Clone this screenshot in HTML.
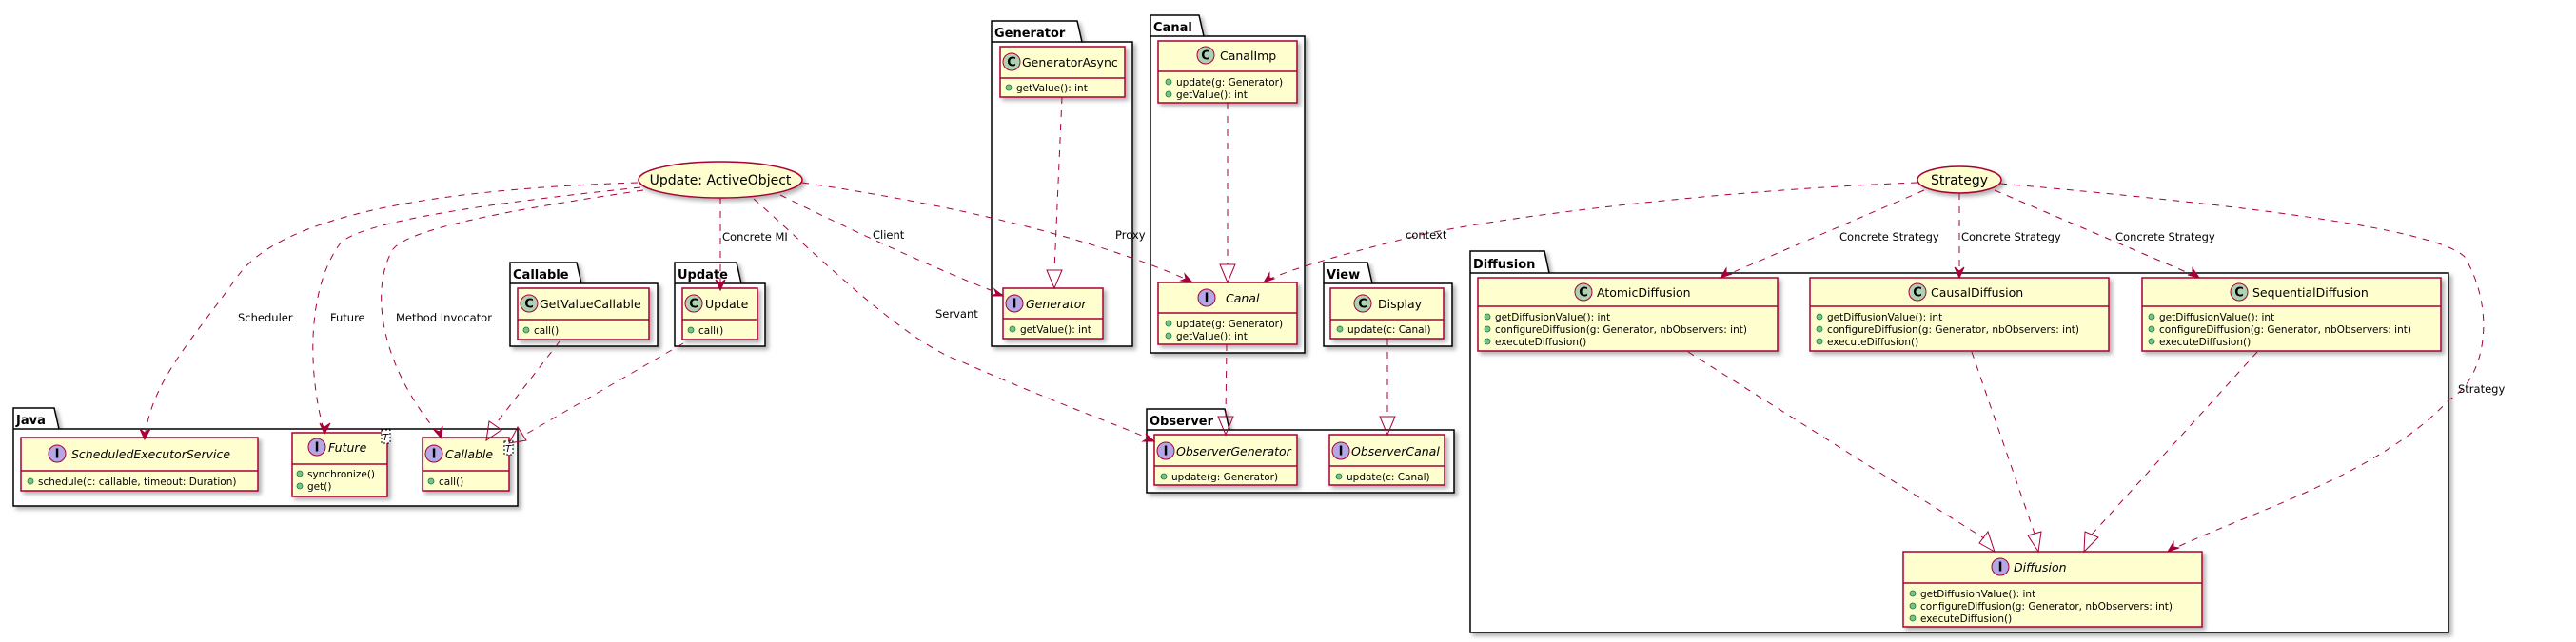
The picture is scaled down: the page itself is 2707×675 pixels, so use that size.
<!DOCTYPE html>
<html><head><meta charset="utf-8"><style>
html,body{margin:0;padding:0;background:#fff;}
svg{display:block;}
text{font-family:"DejaVu Sans","Liberation Sans",sans-serif;}
.pk{fill:#fff;stroke:#000;stroke-width:1.5;}
.cl{fill:#FEFECE;stroke:#A80036;stroke-width:1.5;}
.dv{stroke:#A80036;stroke-width:1.5;}
.e{fill:none;stroke:#A80036;stroke-width:1;stroke-dasharray:7,7;}
.tri{fill:none;stroke:#A80036;stroke-width:1;}
.ah{fill:#A80036;stroke:#A80036;}
.pt{font-weight:bold;font-size:13px;}
.cn{font-size:12.5px;}
.ci{font-size:12.5px;font-style:italic;}
.m{font-size:10.5px;}
.lb{font-size:11.5px;}
.dot{fill:#84BE84;stroke:#038048;stroke-width:0.8;}
</style></head><body>
<svg width="2707" height="675" viewBox="0 0 2707 675" xmlns="http://www.w3.org/2000/svg">
<defs>
<filter id="sh" x="-5%" y="-5%" width="115%" height="125%"><feDropShadow dx="3" dy="3" stdDeviation="2" flood-color="#000" flood-opacity="0.3"/></filter>
<g id="C"><circle r="9" fill="#ADD1B2" stroke="#A80036" stroke-width="1"/><text x="0" y="4.5" text-anchor="middle" style="font-weight:bold;font-size:13px">C</text></g>
<g id="I"><circle r="9" fill="#B4A7E5" stroke="#A80036" stroke-width="1"/><text x="0" y="4.5" text-anchor="middle" style="font-weight:bold;font-size:13px">I</text></g>
</defs>

<g filter="url(#sh)">
<path class="pk" d="M14,451 L14,429 L57,429 L62,451 L544,451 L544,532 L14,532 Z"/>
<path class="pk" d="M536,298 L536,276 L606,276 L611,298 L691,298 L691,364 L536,364 Z"/>
<path class="pk" d="M709,298 L709,276 L774,276 L779,298 L804,298 L804,364 L709,364 Z"/>
<path class="pk" d="M1042,44 L1042,22 L1132,22 L1137,44 L1190,44 L1190,364 L1042,364 Z"/>
<path class="pk" d="M1209,38 L1209,16 L1260,16 L1265,38 L1371,38 L1371,371 L1209,371 Z"/>
<path class="pk" d="M1391,298 L1391,276 L1437,276 L1442,298 L1526,298 L1526,364 L1391,364 Z"/>
<path class="pk" d="M1205,452 L1205,430 L1287,430 L1292,452 L1528,452 L1528,518 L1205,518 Z"/>
<path class="pk" d="M1545,287 L1545,264 L1623,264 L1628,287 L2573,287 L2573,665 L1545,665 Z"/>
</g>
<path d="M14,451 L62,451 M536,298 L611,298 M709,298 L779,298 M1042,44 L1137,44 M1209,38 L1265,38 M1391,298 L1442,298 M1205,452 L1292,452 M1545,287 L1628,287" stroke="#000" stroke-width="1.5"/>
<text class="pt" x="17" y="446">Java</text>
<text class="pt" x="539" y="293">Callable</text>
<text class="pt" x="712" y="293">Update</text>
<text class="pt" x="1045" y="39">Generator</text>
<text class="pt" x="1212" y="33">Canal</text>
<text class="pt" x="1394" y="293">View</text>
<text class="pt" x="1208" y="447">Observer</text>
<text class="pt" x="1548" y="282">Diffusion</text>

<g filter="url(#sh)">
<rect class="cl" x="22" y="460" width="249" height="56"/>
<rect class="cl" x="307" y="455" width="100" height="67"/>
<rect class="cl" x="444" y="460" width="91" height="56"/>
<rect class="cl" x="544" y="303" width="138" height="54"/>
<rect class="cl" x="717" y="303" width="79" height="54"/>
<rect class="cl" x="1051" y="49" width="131" height="53"/>
<rect class="cl" x="1054" y="303" width="105" height="53"/>
<rect class="cl" x="1217" y="43" width="146" height="65"/>
<rect class="cl" x="1217" y="297" width="146" height="65"/>
<rect class="cl" x="1398" y="303" width="119" height="53"/>
<rect class="cl" x="1213" y="457" width="150" height="53"/>
<rect class="cl" x="1397" y="457" width="121" height="53"/>
<rect class="cl" x="1553" y="292" width="315" height="77"/>
<rect class="cl" x="1902" y="292" width="314" height="77"/>
<rect class="cl" x="2251" y="292" width="314" height="77"/>
<rect class="cl" x="2000" y="580" width="314" height="79"/>
</g>
<path class="dv" d="M22,495H271 M307,488H407 M444,495H535 M544,336H682 M717,336H796 M1051,82H1182 M1054,335H1159 M1217,75H1363 M1217,329H1363 M1398,336H1517 M1213,490H1363 M1397,490H1518 M1553,322H1868 M1902,322H2216 M2251,322H2565 M2000,613H2314"/>

<rect x="401" y="452" width="9" height="14" fill="#fff" stroke="#000" stroke-dasharray="2,2"/><text x="402" y="463" style="font-size:10px;font-style:italic">T</text>
<rect x="530" y="464" width="9" height="14" fill="#fff" stroke="#000" stroke-dasharray="2,2"/><text x="531" y="475" style="font-size:10px;font-style:italic">T</text>

<use href="#I" x="60" y="477"/><text class="ci" x="75" y="482">ScheduledExecutorService</text>
<use href="#I" x="333" y="470"/><text class="ci" x="345" y="475">Future</text>
<use href="#I" x="456" y="477"/><text class="ci" x="468" y="482">Callable</text>
<use href="#C" x="556" y="319"/><text class="cn" x="567" y="324">GetValueCallable</text>
<use href="#C" x="729" y="319"/><text class="cn" x="741" y="324">Update</text>
<use href="#C" x="1063" y="65"/><text class="cn" x="1074" y="70">GeneratorAsync</text>
<use href="#I" x="1066" y="319"/><text class="ci" x="1078" y="324">Generator</text>
<use href="#C" x="1267" y="58"/><text class="cn" x="1282" y="63">CanalImp</text>
<use href="#I" x="1268" y="313"/><text class="ci" x="1288" y="318">Canal</text>
<use href="#C" x="1432" y="319"/><text class="cn" x="1448" y="324">Display</text>
<use href="#I" x="1225" y="474"/><text class="ci" x="1236" y="479">ObserverGenerator</text>
<use href="#I" x="1409" y="474"/><text class="ci" x="1420" y="479">ObserverCanal</text>
<use href="#C" x="1664" y="307"/><text class="cn" x="1678" y="312">AtomicDiffusion</text>
<use href="#C" x="2015" y="307"/><text class="cn" x="2029" y="312">CausalDiffusion</text>
<use href="#C" x="2353" y="307"/><text class="cn" x="2367" y="312">SequentialDiffusion</text>
<use href="#I" x="2102" y="596"/><text class="ci" x="2116" y="601">Diffusion</text>

<g class="m">
<circle class="dot" cx="32" cy="506" r="3"/><text x="40" y="510">schedule(c: callable, timeout: Duration)</text>
<circle class="dot" cx="315" cy="498" r="3"/><text x="323" y="502">synchronize()</text>
<circle class="dot" cx="315" cy="511" r="3"/><text x="323" y="515">get()</text>
<circle class="dot" cx="453" cy="506" r="3"/><text x="461" y="510">call()</text>
<circle class="dot" cx="553" cy="347" r="3"/><text x="561" y="351">call()</text>
<circle class="dot" cx="726" cy="347" r="3"/><text x="734" y="351">call()</text>
<circle class="dot" cx="1060" cy="92" r="3"/><text x="1068" y="96">getValue(): int</text>
<circle class="dot" cx="1064" cy="346" r="3"/><text x="1072" y="350">getValue(): int</text>
<circle class="dot" cx="1228" cy="86" r="3"/><text x="1236" y="90">update(g: Generator)</text>
<circle class="dot" cx="1228" cy="99" r="3"/><text x="1236" y="103">getValue(): int</text>
<circle class="dot" cx="1228" cy="340" r="3"/><text x="1236" y="344">update(g: Generator)</text>
<circle class="dot" cx="1228" cy="353" r="3"/><text x="1236" y="357">getValue(): int</text>
<circle class="dot" cx="1408" cy="346" r="3"/><text x="1416" y="350">update(c: Canal)</text>
<circle class="dot" cx="1223" cy="501" r="3"/><text x="1231" y="505">update(g: Generator)</text>
<circle class="dot" cx="1407" cy="501" r="3"/><text x="1415" y="505">update(c: Canal)</text>
<circle class="dot" cx="1563" cy="333" r="3"/><text x="1571" y="337">getDiffusionValue(): int</text>
<circle class="dot" cx="1563" cy="346" r="3"/><text x="1571" y="350">configureDiffusion(g: Generator, nbObservers: int)</text>
<circle class="dot" cx="1563" cy="359" r="3"/><text x="1571" y="363">executeDiffusion()</text>
<circle class="dot" cx="1912" cy="333" r="3"/><text x="1920" y="337">getDiffusionValue(): int</text>
<circle class="dot" cx="1912" cy="346" r="3"/><text x="1920" y="350">configureDiffusion(g: Generator, nbObservers: int)</text>
<circle class="dot" cx="1912" cy="359" r="3"/><text x="1920" y="363">executeDiffusion()</text>
<circle class="dot" cx="2261" cy="333" r="3"/><text x="2269" y="337">getDiffusionValue(): int</text>
<circle class="dot" cx="2261" cy="346" r="3"/><text x="2269" y="350">configureDiffusion(g: Generator, nbObservers: int)</text>
<circle class="dot" cx="2261" cy="359" r="3"/><text x="2269" y="363">executeDiffusion()</text>
<circle class="dot" cx="2010" cy="624" r="3"/><text x="2018" y="628">getDiffusionValue(): int</text>
<circle class="dot" cx="2010" cy="637" r="3"/><text x="2018" y="641">configureDiffusion(g: Generator, nbObservers: int)</text>
<circle class="dot" cx="2010" cy="650" r="3"/><text x="2018" y="654">executeDiffusion()</text>
</g>

<g filter="url(#sh)">
<ellipse cx="757" cy="189" rx="86" ry="19" class="cl"/>
<ellipse cx="2059" cy="189" rx="44" ry="14" class="cl"/>
</g>
<text x="757" y="194" text-anchor="middle" style="font-size:14px">Update: ActiveObject</text>
<text x="2059" y="194" text-anchor="middle" style="font-size:14px">Strategy</text>

<path class="e" d="M670,192 C 420,200 290,235 250,290 C 200,360 160,400 152,460"/>
<path class="e" d="M673,197 C 500,215 370,235 356,258 C 320,310 325,400 341,455"/>
<path class="e" d="M676,200 C 540,220 430,240 413,262 C 390,300 395,380 464,460"/>
<path class="e" d="M757,208 L757,303"/>
<path class="e" d="M820,205 C 900,245 1000,290 1054,310"/>
<path class="e" d="M843,192 C 1000,215 1150,250 1252,296"/>
<path class="e" d="M792,209 C 850,260 950,360 1010,380 C 1100,420 1170,445 1212,463"/>
<path class="e" d="M1116,102 L1108,284"/>
<path class="e" d="M1290,108 L1290,278"/>
<path class="e" d="M1289,362 L1288,438"/>
<path class="e" d="M1458,356 L1458,438"/>
<path class="e" d="M588,359 L520,447"/>
<path class="e" d="M718,361 L550,458"/>
<path class="e" d="M2015,192 C 1800,200 1560,230 1480,250 C 1400,270 1350,285 1329,296"/>
<path class="e" d="M2022,200 L1810,291"/>
<path class="e" d="M2059,203 L2059,291"/>
<path class="e" d="M2096,200 L2309,291"/>
<path class="e" d="M2102,193 C 2350,215 2560,240 2590,270 C 2625,330 2610,400 2574,420 C 2500,500 2360,540 2280,579"/>
<path class="e" d="M1774,370 L2085,566"/>
<path class="e" d="M2072,370 L2138,561"/>
<path class="e" d="M2372,370 L2198,562"/>

<path class="tri" d="M1108,303 L1100,284 L1116,284 Z"/>
<path class="tri" d="M1290,297 L1282,278 L1298,278 Z"/>
<path class="tri" d="M1288,457 L1280,438 L1296,438 Z"/>
<path class="tri" d="M1458,457 L1450,438 L1466,438 Z"/>
<path class="tri" d="M511,463 L514,443 L527,452 Z"/>
<path class="tri" d="M535,466 L544,449 L553,463 Z"/>
<path class="tri" d="M2096,580 L2080,571 L2089,559 Z"/>
<path class="tri" d="M2142,580 L2131,563 L2145,559 Z"/>
<path class="tri" d="M2190,580 L2191,559 L2205,565 Z"/>

<path class="ah" d="M152,462 L147,451 L152,455 L158,451 Z"/>
<path class="ah" d="M341,456 L336,445 L341,449 L347,445 Z"/>
<path class="ah" d="M464,461 L456,452 L462,454 L465,448 Z"/>
<path class="ah" d="M757,305 L752,294 L757,298 L762,294 Z"/>
<path class="ah" d="M1054,311 L1042,311 L1047,309 L1045,304 Z"/>
<path class="ah" d="M1253,297 L1241,295 L1246,293 L1245,288 Z"/>
<path class="ah" d="M1213,464 L1201,464 L1206,461 L1204,456 Z"/>
<path class="ah" d="M1328,297 L1334,287 L1334,292 L1339,293 Z"/>
<path class="ah" d="M1808,292 L1814,282 L1814,287 L1820,288 Z"/>
<path class="ah" d="M2059,292 L2054,281 L2059,285 L2064,281 Z"/>
<path class="ah" d="M2311,292 L2299,289 L2304,288 L2304,282 Z"/>
<path class="ah" d="M2278,580 L2284,570 L2284,575 L2290,576 Z"/>

<g class="lb">
<text x="250" y="338">Scheduler</text>
<text x="347" y="338">Future</text>
<text x="416" y="338">Method Invocator</text>
<text x="759" y="253">Concrete MI</text>
<text x="917" y="251">Client</text>
<text x="1172" y="251">Proxy</text>
<text x="983" y="334">Servant</text>
<text x="1477" y="251">context</text>
<text x="1933" y="253">Concrete Strategy</text>
<text x="2061" y="253">Concrete Strategy</text>
<text x="2223" y="253">Concrete Strategy</text>
<text x="2583" y="413">Strategy</text>
</g>
</svg>
</body></html>
